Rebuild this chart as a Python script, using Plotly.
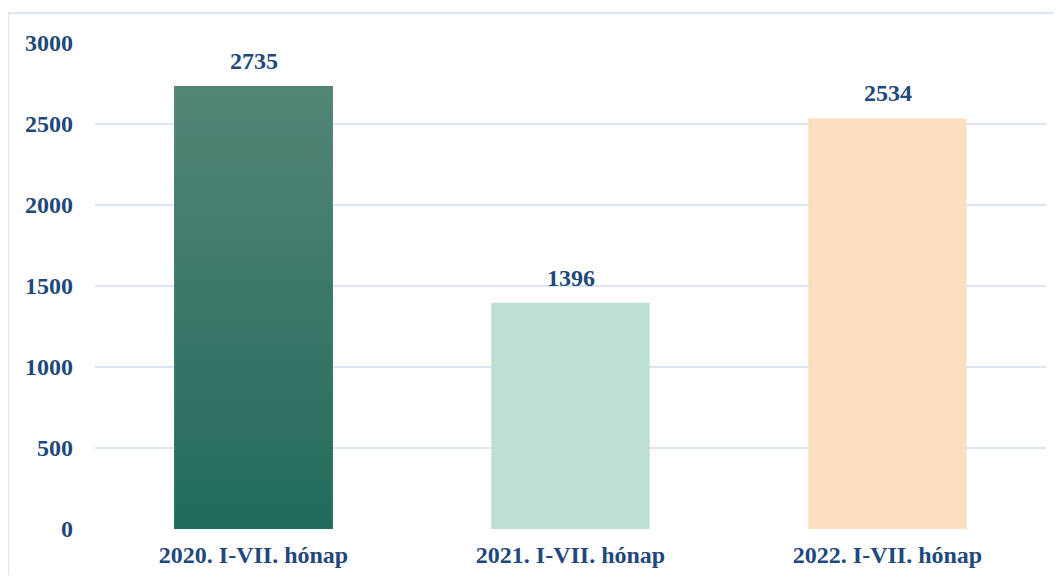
import plotly.graph_objects as go

# Data
categories = ["2020. I-VII. hónap", "2021. I-VII. hónap", "2022. I-VII. hónap"]
values = [2735, 1396, 2534]
bar_colors = ["#3a7868", "#bde0d3", "#fcdfc0"]

TEXT_COLOR = "#1f497d"
GRID_COLOR = "#dbe5f3"
FONT = "Liberation Serif, Times New Roman, serif"
BOLD = dict(family=FONT, size=24, color=TEXT_COLOR, weight="bold")

x_pos = list(range(len(categories)))
BAR_WIDTH = 0.5

fig = go.Figure()

fig.add_trace(go.Bar(
    x=x_pos, y=values,
    width=BAR_WIDTH,
    marker=dict(color=bar_colors, line=dict(width=0)),
    hoverinfo="skip",
))

# vertical gradient for the first bar
half = BAR_WIDTH / 2
x0 = x_pos[0]
fig.add_trace(go.Scatter(
    x=[x0 - half, x0 + half, x0 + half, x0 - half, x0 - half],
    y=[0, 0, values[0], values[0], 0],
    mode="lines", line=dict(width=0),
    fill="toself",
    fillgradient=dict(type="vertical",
                      colorscale=[[0, "#216b5c"], [1, "#548577"]]),
    hoverinfo="skip", showlegend=False,
))

# value labels above the bars
for x, v in zip(x_pos, values):
    fig.add_annotation(x=x, y=v, text=str(v), showarrow=False,
                       yanchor="bottom", yshift=10, font=BOLD)

# figure sized to fit inside the page (body has an 8px margin)
W, H = 1045, 567
PL, PT, PW, PH = 87, 35, 951, 488

fig.update_layout(
    width=W, height=H,
    plot_bgcolor="white", paper_bgcolor="white",
    margin=dict(l=PL, r=W - PL - PW, t=PT, b=H - PT - PH),
    showlegend=False,
    font=BOLD,
    shapes=[dict(
        type="rect", xref="paper", yref="paper",
        x0=-PL / PW, x1=1.2, y0=-0.3, y1=1 + 30 / PH,
        line=dict(color=GRID_COLOR, width=2), layer="below",
    )],
)
fig.update_xaxes(
    range=[-0.5, 2.5],
    tickvals=x_pos, ticktext=categories,
    showgrid=False, zeroline=False, showline=False,
    ticks="", ticklabelstandoff=9,
    tickfont=BOLD,
)
fig.update_yaxes(
    range=[0, 3000], dtick=500,
    showgrid=True, gridcolor=GRID_COLOR, gridwidth=2,
    zeroline=False, showline=False,
    ticks="", ticklabelstandoff=21,
    tickfont=BOLD,
)

fig.write_html("out.html")
